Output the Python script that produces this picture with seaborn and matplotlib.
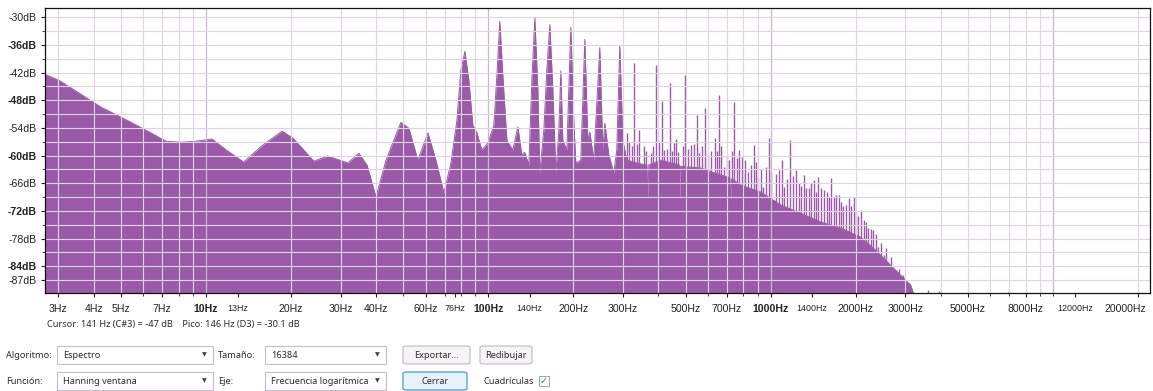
import matplotlib
matplotlib.use("Agg")
import matplotlib.pyplot as plt
import matplotlib.transforms as mtrans
import pandas as pd
import seaborn as sns
from matplotlib.patches import Rectangle, FancyBboxPatch
from matplotlib.ticker import FixedLocator, NullFormatter

# ---- spectrum data -------------------------------------------------------
# broadband envelope of the spectrum (frequency in Hz, level in dB)
env_hz = [2.69, 3.02, 4.25, 5.43, 6.39, 7.22, 8.15, 9.22, 10.5, 11.8, 13.6, 15.9,
          18.6, 20.3, 24.1, 27.0, 31.8, 34.8, 37.2, 40.0, 43.4, 49.0, 52.3, 56.3,
          61.1, 65.2, 69.6, 73.7, 77.4, 79.9, 82.6, 85.3, 88.1, 91.1, 94.8, 99.6,
          104.6, 107.2, 109.8, 112.5, 116.3, 122.1, 127.2, 131.4, 134.6, 139.1,
          142.6, 146.1, 149.7, 152.1, 157.2, 161.1, 165.1, 169.2, 173.4, 177.7,
          180.6, 183.5, 189.7, 195.9, 200.7, 204.0, 212.5, 219.6, 225.0, 228.7,
          236.3, 248.1, 254.3, 258.5, 267.1, 278.2, 285.0, 292.1, 299.4, 309.3,
          330, 360, 364, 367, 370, 410, 470, 474, 476, 479, 565, 665, 716, 722,
          728, 783, 922, 1085, 1277, 1503, 1769, 2083, 2353, 2659, 2885, 3131, 3208]
env_db = [-42.4, -43.7, -49.5, -52.8, -55.1, -56.9, -57.1, -56.9, -56.4, -58.8, -61.4, -57.7,
          -54.7, -56.2, -61.2, -60.1, -61.6, -59.5, -62.1, -69.0, -61.0, -52.8, -54.1, -61.0,
          -55.1, -61.0, -68.1, -61.6, -52.3, -41.5, -37.4, -43.7, -53.4, -55.1, -58.8, -57.3,
          -53.4, -42.6, -30.9, -42.6, -56.7, -58.8, -53.8, -59.9, -59.3, -62.1,
          -43.7, -30.1, -45.8, -63.8, -54.5, -41.5, -31.6, -45.8, -63.8, -54.5,
          -41.6, -56.7, -58.8, -32.2, -52.3, -61.6, -61.0, -34.8, -56.7, -54.9,
          -61.0, -36.6, -58.8, -53.0, -59.9, -63.8, -58.8, -36.1, -56.7, -61.0,
          -61.5, -62.0, -62.0, -69.7, -62.0, -61.0, -62.0, -62.0, -69.7, -62.3, -62.7, -64.2, -64.8, -69.7,
          -65.0, -66.4, -67.9, -70.7, -72.5, -74.4, -75.7, -77.7, -80.5, -83.8, -85.9, -88.1, -90.0]

# narrow partials rising out of the envelope
spike_hz = [309.3, 327.3, 341, 376, 391.6, 411.4, 418, 439.1, 453.5, 468.7, 496.2, 521,
            547, 556, 584, 598, 633.7, 654.4, 681.8, 710, 739.6, 770.3, 789, 796, 829,
            870.6, 899, 937, 983.8, 1025, 1067, 1094, 1112, 1168, 1226, 1256, 1309, 1363,
            1420, 1467, 1540, 1578, 1631, 1671, 1741, 1799, 1843, 1889, 1967, 2032, 2083,
            2134, 2204, 2297, 2393, 2452, 2512, 2595, 2704, 2770, 2885, 2981, 3080,
            3597, 3930, 6900]
spike_db = [-55.1, -40.0, -54.5, -59.5, -40.4, -48.2, -58.8, -44.3, -57.3, -59.3, -42.6, -57.7,
            -51.2, -59.5, -49.7, -59.5, -56.2, -46.9, -62.5, -61.0, -48.4, -58.8, -60.3, -63.8, -63.6,
            -57.7, -64.7, -66.8, -56.2, -69.7, -63.2, -61.0, -66.8, -56.7, -63.2, -66.0, -64.2, -67.0,
            -65.3, -64.7, -67.5, -68.0, -64.9, -69.0, -68.6, -71.0, -70.7, -69.2, -69.0, -73.0, -71.8,
            -74.0, -75.7, -76.2, -79.8, -79.0, -81.6, -83.1, -84.4, -84.8, -86.1, -87.0, -87.7,
            -89.2, -89.4, -89.5]

# short hairs of noise just above the envelope
hair_hz = [314.4, 322.2, 335.6, 355.2, 361.0, 382.2, 401.3, 428.4, 446.2, 461.0, 488.2,
           508.5, 534.0, 570.0, 613.3, 643.9, 665.3, 698.6, 727.7, 758.0, 809.1, 849.7,
           885.0, 921.8, 960.0, 1000, 1041.6, 1139.2, 1196.5, 1277.3, 1330.5, 1385.8,
           1443.3, 1503.3, 1604.7, 1699.0, 1769.6, 1920.2, 2000, 2169.7, 2259.9, 2353.7,
           2553.9, 2660.0, 2857.5, 2934.7]
hair_db = [-57.0, -58.0, -57.5, -58.0, -59.0, -58.0, -57.0, -58.5, -59.0, -56.5, -58.0,
           -58.5, -57.5, -58.0, -59.0, -59.0, -58.0, -60.0, -59.0, -60.5, -61.0, -62.0,
           -61.5, -63.0, -62.5, -63.5, -64.0, -65.0, -64.5, -66.5, -67.0, -66.0,
           -68.0, -67.0, -69.0, -68.5, -70.0, -71.0, -72.5, -74.5, -76.0, -77.0,
           -80.0, -82.0, -84.5, -86.0]

# axis labelling
x_tick_hz = [3, 4, 5, 7, 10, 13, 20, 30, 40, 60, 76, 100, 140, 200, 300, 500, 700,
             1000, 1400, 2000, 3000, 5000, 8000, 12000, 20000]
x_tick_txt = ["3Hz", "4Hz", "5Hz", "7Hz", "10Hz", "13Hz", "20Hz", "30Hz", "40Hz", "60Hz",
              "76Hz", "100Hz", "140Hz", "200Hz", "300Hz", "500Hz", "700Hz", "1000Hz",
              "1400Hz", "2000Hz", "3000Hz", "5000Hz", "8000Hz", "12000Hz", "20000Hz"]
y_tick_db = [-30, -36, -42, -48, -54, -60, -66, -72, -78, -84, -87]
y_tick_txt = ["-30dB", "-36dB", "-42dB", "-48dB", "-54dB", "-60dB", "-66dB", "-72dB",
              "-78dB", "-84dB", "-87dB"]

cursor_txt = "Cursor: 141 Hz (C#3) = -47 dB    Pico: 146 Hz (D3) = -30.1 dB"

# ---- styling -------------------------------------------------------------
sns.set_theme(style="white")
plt.rcParams["font.family"] = ["Liberation Sans", "DejaVu Sans"]

PURPLE = "#9a5aa8"
W, H = 1153, 391
fig = plt.figure(figsize=(W / 100, H / 100), dpi=100)
fig.patch.set_facecolor("white")


def fx(px):
    return px / W


def fy(py):
    return 1 - py / H


ax = fig.add_axes([fx(45), fy(293), fx(1150) - fx(45), fy(8) - fy(293)])
ax.set_facecolor("white")

env = pd.DataFrame({"hz": env_hz, "db": env_db})
spk = pd.DataFrame({"hz": spike_hz + hair_hz, "db": spike_db + hair_db})

Y0, Y1 = -89.8, -28.0
ax.fill_between(env["hz"], env["db"], Y0 - 1, color=PURPLE, lw=0, zorder=1)
sns.lineplot(data=env, x="hz", y="db", ax=ax, color=PURPLE, lw=0.7,
             sort=False, estimator=None, zorder=1.2)
ax.vlines(spk["hz"], Y0 - 1, spk["db"], color=PURPLE, lw=1.0, zorder=1.5)

ax.set_xscale("log")
ax.set_xlim(2.69, 22050)
ax.set_ylim(Y0, Y1)
ax.set_xlabel("")
ax.set_ylabel("")

# grid: every 1..9 multiple per decade, every 3 dB
ax.grid(False)
grid_x = [m * 10 ** d for d in range(0, 5) for m in range(1, 10) if 2.69 < m * 10 ** d < 22050]
for g in grid_x:
    decade = g in (10, 100, 1000, 10000)
    ax.axvline(g, color="#cbb6cf" if decade else "#e0d3e3", lw=0.9 if decade else 0.8,
               zorder=2.4, snap=True)
for g in range(-87, -29, 3):
    ax.axhline(g, color="#e0d3e3", lw=0.8, zorder=2.4, snap=True)

ax.xaxis.set_minor_locator(FixedLocator(grid_x))
ax.xaxis.set_minor_formatter(NullFormatter())
ax.xaxis.set_major_locator(FixedLocator(x_tick_hz))
ax.set_xticklabels(x_tick_txt)
ax.yaxis.set_major_locator(FixedLocator(y_tick_db))
ax.set_yticklabels(y_tick_txt)
ax.yaxis.set_minor_locator(FixedLocator(list(range(-87, -29, 3))))

ax.tick_params(axis="both", which="major", direction="out", length=3, width=0.8,
               colors="#222222", labelsize=7.6, pad=3)
ax.tick_params(axis="both", which="minor", direction="out", length=2, width=0.6,
               colors="#222222")
ax.tick_params(axis="x", which="major", pad=5)
ax.tick_params(left=True, bottom=True, which="both")

for lab, v in zip(ax.get_xticklabels(), x_tick_hz):
    lab.set_color("#222222")
    if v in (10, 100, 1000):
        lab.set_fontweight("bold")
    if v in (13, 76, 140, 1400, 12000):
        lab.set_fontsize(6.4)
# the last label is kept inside the ruler
last = ax.get_xticklabels()[-1]
last.set_transform(last.get_transform() + mtrans.ScaledTranslation(-13 / 100, 0, fig.dpi_scale_trans))

for lab, v in zip(ax.get_yticklabels(), y_tick_db):
    lab.set_color("#222222")
    if v in (-36, -48, -60, -72, -84):
        lab.set_fontweight("bold")

for s in ax.spines.values():
    s.set_visible(True)
    s.set_color("#111111")
    s.set_linewidth(0.9)

# ---- dialog controls below the plot ---------------------------------------
UI = ["Noto Sans", "DejaVu Sans"]
TXT = "#2b2b2b"
fig.text(fx(47), fy(325), cursor_txt, family=UI, fontsize=6.6, color=TXT, va="center")


def label(px, py, s):
    fig.text(fx(px), fy(py), s, family=UI, fontsize=6.6, color=TXT, va="center")


def combo(x0, x1, py, s):
    fig.add_artist(Rectangle((fx(x0), fy(py + 9)), fx(x1) - fx(x0), fy(py - 9) - fy(py + 9),
                             transform=fig.transFigure, fc="white", ec="#c9bcc9", lw=0.8))
    fig.text(fx(x0 + 6), fy(py), s, family=UI, fontsize=6.6, color=TXT, va="center")
    fig.text(fx(x1 - 9), fy(py), "▼", family=UI, fontsize=4.5, color="#444444",
             va="center", ha="center")


def button(x0, x1, py, s, ec="#c2b8c2", fc="#f6f4f6", lw=0.8):
    fig.add_artist(FancyBboxPatch((fx(x0), fy(py + 9)), fx(x1) - fx(x0),
                                  fy(py - 9) - fy(py + 9), boxstyle="round,pad=0,rounding_size=0.004",
                                  transform=fig.transFigure, fc=fc, ec=ec, lw=lw))
    fig.text(fx((x0 + x1) / 2), fy(py), s, family=UI, fontsize=6.6, color=TXT,
             va="center", ha="center")


r1, r2 = 355, 381
label(6, r1, "Algoritmo:")
combo(57, 213, r1, "Espectro")
label(218, r1, "Tamaño:")
combo(265, 386, r1, "16384")
button(403, 470, r1, "Exportar...")
button(480, 532, r1, "Redibujar")

label(6, r2, "Función:")
combo(57, 213, r2, "Hanning ventana")
label(218, r2, "Eje:")
combo(265, 386, r2, "Frecuencia logarítmica")
button(403, 467, r2, "Cerrar", ec="#5aa3d6", fc="#e8f3fb", lw=1.0)
label(483, r2, "Cuadrículas")
fig.add_artist(Rectangle((fx(539), fy(r2 + 5)), fx(10), fy(r2 - 5) - fy(r2 + 5),
                         transform=fig.transFigure, fc="white", ec="#9aa4b0", lw=0.7))
fig.text(fx(544), fy(r2), "✓", family=["DejaVu Sans"], fontsize=7, color="#2a6fd0",
         va="center", ha="center")

fig.savefig("out.png", dpi=100, facecolor="white")
